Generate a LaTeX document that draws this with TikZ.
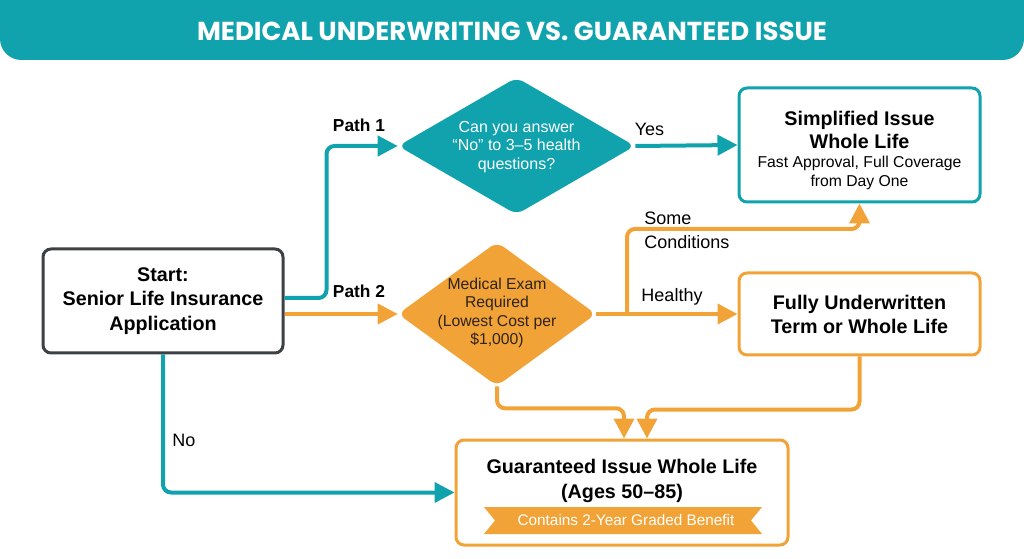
\documentclass[tikz,border=0pt]{standalone}
\usepackage{xcolor}
\usepackage{tikz}
\usepackage{fontspec}
\setmainfont{Liberation Sans}
\newfontfamily\titlefont{Poppins}
\usetikzlibrary{shapes.geometric,arrows.meta}

\begin{document}
\begin{tikzpicture}[x=0.75pt,y=-0.75pt]
						\tikzstyle{every node}=[font=\fontsize{12}{14}\selectfont, inner sep=0pt]
						\tikzstyle{tealline}=[line width=3pt, color={rgb,255:red,16; green,163; blue,173}, rounded corners=6pt, -{Triangle[length=15pt,width=15pt]}]
						\tikzstyle{orangeline}=[line width=3pt, color={rgb,255:red,242; green,163; blue,55}, rounded corners=6pt, -{Triangle[length=15pt,width=15pt]}]
						\tikzstyle{darkbox}=[draw={rgb,255:red,60; green,65; blue,70}, line width=2.25pt, fill=white, rounded corners=6pt]
						\tikzstyle{tealbox}=[draw={rgb,255:red,16; green,163; blue,173}, line width=2.25pt, fill=white, rounded corners=6pt]
						\tikzstyle{orangebox}=[draw={rgb,255:red,242; green,163; blue,55}, line width=2.25pt, fill=white, rounded corners=6pt]
						\tikzstyle{boxtitle}=[font=\bfseries\fontsize{14.8}{18.4}\selectfont, align=center]
						\tikzstyle{pathlabel}=[font=\fontsize{13.5}{18}\selectfont, align=left]
						\useasboundingbox (0,0) rectangle (1024,559);
						% title bar
						\fill [color={rgb,255:red,16; green,163; blue,173}, rounded corners=16pt] (0,-40) rectangle (1024,60);
						\node [font=\titlefont\bfseries\fontsize{19.5}{22}\selectfont, color=white] (title) at (512,31) {MEDICAL UNDERWRITING VS. GUARANTEED ISSUE};
						% boxes
						\node [darkbox, boxtitle, minimum width=180pt, minimum height=78pt] (start) at (163,301) {Start:\\Senior Life Insurance\\Application};
						\node [diamond, fill={rgb,255:red,16; green,163; blue,173}, minimum width=177.75pt, minimum height=102.75pt, rounded corners=6pt] (q1) at (516.5,146) {};
						\node [color=white, align=center, font=\fontsize{12}{13.9}\selectfont] (q1text) at (516.5,147) {Can you answer\\“No” to 3–5 health\\questions?};
						\node [diamond, fill={rgb,255:red,242; green,163; blue,55}, minimum width=148.5pt, minimum height=108pt, rounded corners=6pt] (q2) at (497,314) {};
						\node [color={rgb,255:red,45; green,35; blue,25}, align=center, font=\fontsize{11.8}{13.7}\selectfont] (q2text) at (497,313) {Medical Exam\\Required\\(Lowest Cost per\\\$1,000)};
						\node [tealbox, minimum width=180.75pt, minimum height=85.5pt] (si) at (859.5,145) {};
						\node [boxtitle, font=\bfseries\fontsize{14.8}{17.25}\selectfont] (sititle) at (859.5,129.5) {Simplified Issue\\Whole Life};
						\node [align=center, font=\fontsize{11.8}{14.25}\selectfont] (sinote) at (859.5,173) {Fast Approval, Full Coverage\\from Day One};
						\node [orangebox, boxtitle, font=\bfseries\fontsize{14.8}{18}\selectfont, minimum width=180.75pt, minimum height=61.5pt] (fu) at (859.5,314) {Fully Underwritten\\Term or Whole Life};
						\node [orangebox, minimum width=249pt, minimum height=78.75pt] (gi) at (622,492.5) {};
						\node [boxtitle, font=\bfseries\fontsize{14.8}{18.75}\selectfont] (gititle) at (622,480.5) {Guaranteed Issue Whole Life\\(Ages 50–85)};
						\fill [color={rgb,255:red,242; green,163; blue,55}] (484,507) -- (762,507) -- (751,520.5) -- (762,534) -- (484,534) -- (495,520.5) -- cycle;
						\node [color=white, font=\fontsize{11.5}{13}\selectfont] (ginote) at (626,520.5) {Contains 2-Year Graded Benefit};
						% connectors
						\coordinate (split) at (627,314);
						\draw [tealline] ([yshift=2.25pt]start.east) -- ++(42,0) |- (q1.west);
						\draw [orangeline] ([yshift=-9.75pt]start.east) -- (q2.west);
						\draw [tealline] (start.south) |- (gi.west);
						\draw [tealline] (q1.east) -- (si.west);
						\draw [orangeline] (q2.east) -- (fu.west);
						\draw [orangeline] (split) -- ++(0,-85) -| (si.south);
						\draw [orangeline] (q2.south) -- ++(0,22) -| ([xshift=1.5pt]gi.north);
						\draw [orangeline] (fu.south) -- ++(0,53) -| ([xshift=18.75pt]gi.north);
						% labels
						\node [font=\bfseries\fontsize{13}{16}\selectfont] (path1) at (359,125) {Path 1};
						\node [font=\bfseries\fontsize{13}{16}\selectfont] (path2) at (359,291) {Path 2};
						\node [pathlabel] (yes) at (649.5,129) {Yes};
						\node [pathlabel, anchor=west] (some) at (644,230) {Some\\Conditions};
						\node [pathlabel] (healthy) at (672,297) {Healthy};
						\node [pathlabel] (no) at (184,440) {No};
					\end{tikzpicture}
\end{document}
